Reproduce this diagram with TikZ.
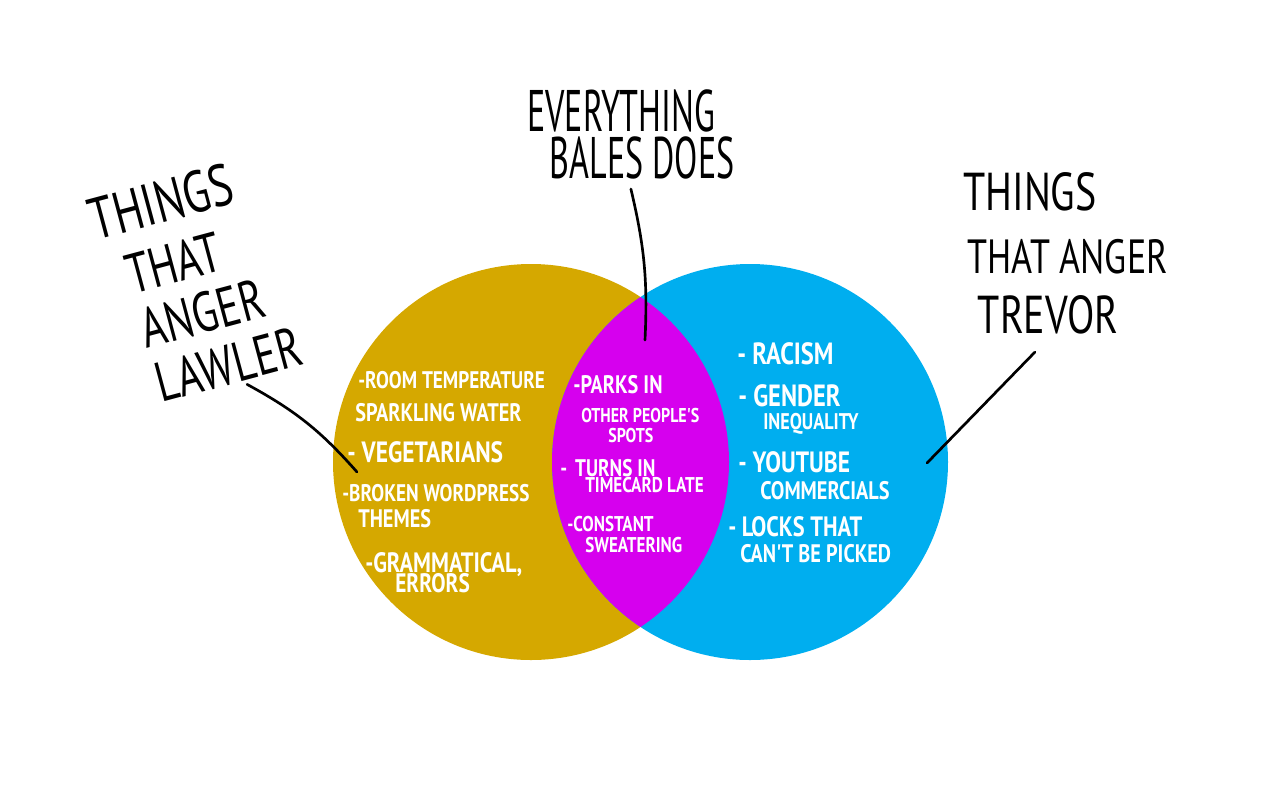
\documentclass[tikz,border=0pt]{standalone}
\usepackage{fontspec}
\newfontfamily\hand[FakeStretch=0.75]{PT Sans}
\newfontfamily\handnarrow[FakeStretch=0.58]{PT Sans}
\newfontfamily\handw[FakeStretch=0.8]{PT Sans Bold}
\definecolor{lawlergold}{RGB}{213,168,0}
\definecolor{trevorblue}{RGB}{0,174,239}
\definecolor{balesmag}{RGB}{214,0,238}
\newcommand\fs[1]{\fontsize{#1}{#1}\selectfont}
\AtBeginDocument{\setlength{\lineskiplimit}{-20pt}}

\begin{document}
\begin{tikzpicture}[x=0.75pt, y=-0.75pt,
  item/.style={text=white, anchor=north west, inner sep=0pt, align=left},
  title/.style={text=black, anchor=north west, inner sep=0pt, align=left},
  conn/.style={line width=2pt, line cap=round}]

\useasboundingbox (0,0) rectangle (1280,800);

% Круги
\coordinate (L) at (531,462);
\coordinate (R) at (750,462);
\fill[lawlergold] (L) circle (198);
\fill[trevorblue] (R) circle (198);
\begin{scope}
\clip (L) circle (198);
\fill[balesmag] (R) circle (198);
\end{scope}

% Левый круг (Lawler)
\node[item, font=\handw\fontsize{18}{24.75}\selectfont] (lroom) at (355,371)
  {\hspace*{2.25pt}-ROOM TEMPERATURE\\ {\fs{19}SPARKLING WATER}};
\node[item, font=\handw\fs{22}] (lveg) at (347,441.5) {- VEGETARIANS};
\node[item, font=\handw\fontsize{18}{19.5}\selectfont] (lwp) at (342,484)
  {-BROKEN WORDPRESS\\ \hspace*{12pt}{\fs{19}THEMES}};
\node[item, font=\handw\fontsize{21}{15}\selectfont] (lgram) at (365,552)
  {-GRAMMATICAL,\\ \hspace*{22.5pt}{\fs{20}ERRORS}};

% Пересечение (Bales)
\node[item, font=\handw\fontsize{19}{15}\selectfont] (bparks) at (573,375)
  {-PARKS IN\\[6.75pt] \hspace*{6pt}{\fs{15}OTHER PEOPLE'S}\\ \hspace*{26.25pt}{\fs{15}SPOTS}};
\node[item, font=\handw\fontsize{18}{12}\selectfont] (bturns) at (560,459)
  {-\hspace{6pt}TURNS IN\\ \hspace*{18.75pt}{\fs{16}TIMECARD LATE}};
\node[item, font=\handw\fontsize{16}{15.75}\selectfont] (bconst) at (567,516)
  {-CONSTANT\\ \hspace*{13.5pt}SWEATERING};

% Правый круг (Trevor)
\node[item, font=\handw\fs{23}] (trac) at (737,342.5) {- RACISM};
\node[item, font=\handw\fontsize{23}{17.25}\selectfont] (tgend) at (738,384.5)
  {- GENDER\\ \hspace*{18.75pt}{\fs{17}INEQUALITY}};
\node[item, font=\handw\fontsize{22}{20.25}\selectfont] (tyt) at (738,451.5)
  {- YOUTUBE\\ \hspace*{16.5pt}{\fs{19}COMMERCIALS}};
\node[item, font=\handw\fontsize{21}{19.5}\selectfont] (tlock) at (728,516)
  {- LOCKS THAT\\ \hspace*{9pt}{\fs{19}CAN'T BE PICKED}};

% Подписи
\node[title, rotate=15, font=\hand\fontsize{44}{42}\selectfont] (ltitle) at (84.4,200.3)
  {THINGS\\[4pt] \hspace*{16pt}{\fs{42}THAT}\\ \hspace*{16pt}{\fs{42}ANGER}\\ \hspace*{16pt}{\fs{42}LAWLER}};
\node[title, font=\handnarrow\fontsize{44}{35.25}\selectfont] (mtitle) at (527,89)
  {EVERYTHING\\ \hspace*{17pt}BALES DOES};
\node[title, font=\hand\fontsize{40}{45}\selectfont] (rtitle) at (963,172.7)
  {THINGS\\[2.25pt] \hspace*{3pt}{\fs{36}THAT ANGER}\\ \hspace*{11pt}TREVOR};

% Линии
\coordinate (lpt) at (357,472);
\coordinate (mpt) at (645,340);
\coordinate (rpt) at (927,463);
\draw[conn] ([xshift=18pt, yshift=2pt]ltitle.south) to[bend left=10] (lpt);
\draw[conn] ([yshift=-7.5pt]mtitle.south) to[bend left=8] (mpt);
\draw[conn] ([xshift=-23pt, yshift=-13pt]rtitle.south) -- (rpt);
\end{tikzpicture}
\end{document}
